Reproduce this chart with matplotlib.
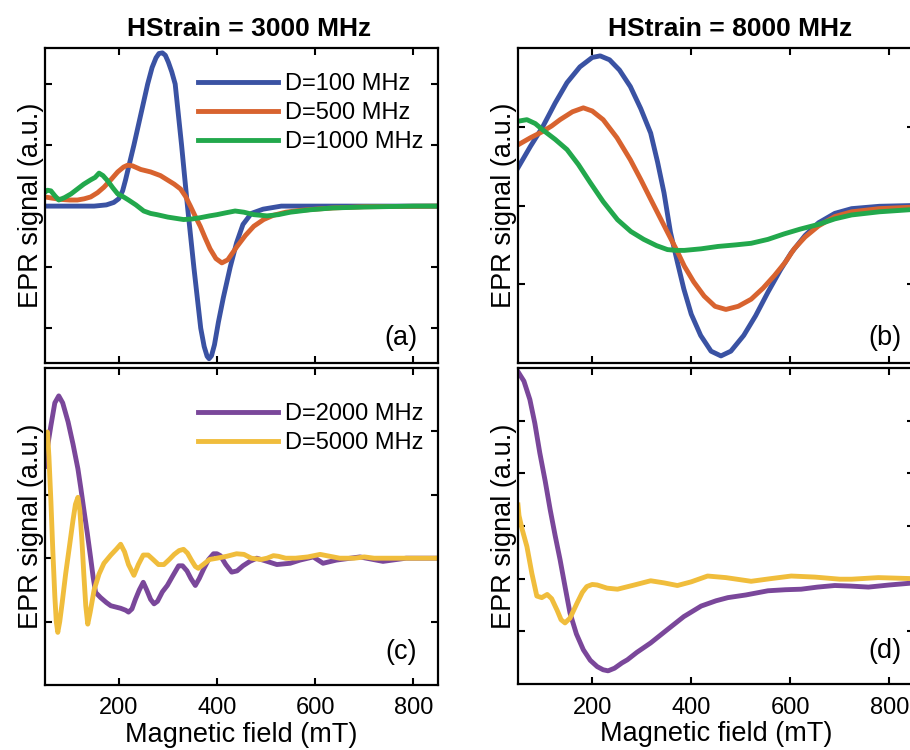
import numpy as np
import matplotlib
matplotlib.use('Agg')
import matplotlib.pyplot as plt

plt.rcParams['font.family'] = ['Liberation Sans', 'DejaVu Sans']

# colours
c_blue = '#3A52A3'
c_orange = '#D8632F'
c_green = '#22A84C'
c_purple = '#7A479A'
c_yellow = '#F0BD3C'

# ---- panel (a): HStrain = 3000 MHz ----
a_blue_x = [50, 150, 175, 190, 200, 208, 214, 222, 231, 245, 259, 268, 276, 282, 289, 295, 301, 308,
            315, 328, 340, 353, 367, 374, 380, 384, 389, 395, 403, 413, 427, 440, 453, 470, 494,
            531, 600, 850]
a_blue_y = [0, 0, 0.02, 0.06, 0.12, 0.25, 0.43, 0.7, 1.0, 1.5, 2.0, 2.27, 2.43, 2.5, 2.51, 2.47,
            2.36, 2.2, 2.0, 1.0, 0.0, -1.0, -2.0, -2.3, -2.46, -2.5, -2.45, -2.27, -1.9, -1.5,
            -1.0, -0.6, -0.3, -0.12, -0.05, 0, 0, 0]
a_orange_x = [50, 65, 82, 100, 116, 130, 143, 157, 170, 185, 198, 210, 218, 228, 245, 265, 285, 299,
              313, 326, 336, 346, 356, 366, 376, 386, 398, 410, 422, 441, 458, 475, 495, 515, 540,
              569, 600, 636, 700, 850]
a_orange_y = [0.15, 0.13, 0.11, 0.1, 0.1, 0.12, 0.15, 0.22, 0.31, 0.44, 0.56, 0.64, 0.67, 0.66, 0.6,
              0.56, 0.5, 0.43, 0.36, 0.28, 0.16, 0.0, -0.17, -0.33, -0.52, -0.7, -0.86, -0.93, -0.88,
              -0.66, -0.48, -0.33, -0.22, -0.15, -0.1, -0.07, -0.05, -0.03, -0.01, 0]
a_green_x = [50, 55, 62, 70, 78, 90, 103, 116, 129, 143, 152, 160, 168, 178, 188, 198, 210, 220, 235,
             251, 265, 278, 300, 332, 350, 366, 385, 400, 418, 437, 455, 475, 502, 525, 549, 590,
             636, 700, 800, 850]
a_green_y = [0.23, 0.26, 0.25, 0.17, 0.1, 0.14, 0.2, 0.28, 0.36, 0.43, 0.47, 0.54, 0.5, 0.41, 0.3,
             0.2, 0.15, 0.1, 0.02, -0.08, -0.12, -0.14, -0.18, -0.22, -0.21, -0.19, -0.16, -0.14,
             -0.11, -0.08, -0.1, -0.14, -0.16, -0.14, -0.1, -0.06, -0.03, -0.015, 0, 0]

# ---- panel (b): HStrain = 8000 MHz ----
b_blue_x = [50, 75, 100, 125, 149, 175, 200, 216, 235, 255, 277, 298, 318, 332, 345, 358, 372, 385,
            400, 419, 440, 460, 480, 506, 530, 555, 580, 602, 630, 657, 690, 724, 780, 850]
b_blue_y = [0.48, 0.75, 1.0, 1.3, 1.56, 1.76, 1.88, 1.9, 1.85, 1.72, 1.51, 1.23, 0.92, 0.55, 0.16,
            -0.34, -0.72, -1.06, -1.38, -1.65, -1.85, -1.91, -1.85, -1.65, -1.4, -1.1, -0.82, -0.6,
            -0.38, -0.22, -0.1, -0.04, -0.01, 0]
b_orange_x = [50, 75, 100, 118, 135, 160, 182, 200, 222, 250, 277, 298, 318, 335, 352, 370, 386, 405,
              426, 448, 470, 495, 521, 545, 568, 590, 608, 630, 657, 690, 724, 780, 850]
b_orange_y = [0.77, 0.86, 0.94, 1.01, 1.09, 1.19, 1.24, 1.2, 1.09, 0.86, 0.58, 0.33, 0.08, -0.13,
              -0.34, -0.56, -0.77, -0.97, -1.15, -1.28, -1.32, -1.28, -1.19, -1.05, -0.89, -0.72,
              -0.55, -0.4, -0.26, -0.14, -0.08, -0.04, -0.02]
b_green_x = [50, 68, 85, 100, 125, 149, 172, 196, 222, 251, 278, 304, 330, 352, 370, 386, 420, 454,
             490, 521, 555, 588, 620, 657, 690, 724, 780, 850]
b_green_y = [1.07, 1.09, 1.04, 0.96, 0.84, 0.71, 0.52, 0.29, 0.05, -0.18, -0.33, -0.43, -0.51, -0.56,
             -0.57, -0.57, -0.55, -0.52, -0.5, -0.48, -0.43, -0.36, -0.3, -0.24, -0.17, -0.12,
             -0.08, -0.05]

# ---- panel (c): HStrain = 3000 MHz ----
c_purple_x = [50, 55, 62, 70, 78, 86, 97, 107, 117, 123, 129, 136, 143, 148, 153, 163, 175, 184, 204,
              214, 220, 227, 234, 242, 250, 257, 265, 272, 279, 289, 299, 310, 322, 330, 339, 347,
              356, 364, 373, 383, 393, 400, 407, 418, 430, 441, 453, 467, 481, 502, 522, 549, 569,
              596, 616, 643, 691, 738, 785, 850]
c_purple_y = [1.45, 1.75, 2.09, 2.45, 2.56, 2.45, 2.15, 1.8, 1.41, 1.1, 0.77, 0.4, 0.0, -0.3, -0.54,
              -0.62, -0.7, -0.75, -0.79, -0.82, -0.85, -0.8, -0.65, -0.5, -0.38, -0.5, -0.65, -0.72,
              -0.68, -0.53, -0.43, -0.28, -0.12, -0.12, -0.2, -0.32, -0.43, -0.32, -0.17, -0.02,
              0.07, 0.07, 0.04, -0.1, -0.22, -0.2, -0.12, -0.05, 0.0, -0.05, -0.1, -0.08, -0.03,
              0.02, -0.08, -0.03, 0.02, -0.05, 0.0, 0.0]
c_yellow_x = [50, 55, 58, 62, 66, 70, 73, 76, 80, 85, 92, 100, 107, 112, 117, 121, 125, 129, 133, 137,
              142, 150, 160, 170, 184, 195, 204, 212, 220, 231, 240, 250, 260, 270, 281, 292, 303,
              313, 323, 332, 340, 348, 356, 362, 372, 385, 400, 420, 440, 455, 470, 490, 502, 515,
              525, 540, 560, 585, 610, 630, 650, 680, 700, 720, 750, 800, 850]
c_yellow_y = [1.9, 1.99, 1.6, 0.9, 0.1, -0.6, -1.0, -1.17, -1.0, -0.7, -0.25, 0.2, 0.6, 0.85, 0.96,
              0.75, 0.3, -0.25, -0.75, -1.04, -0.85, -0.5, -0.25, -0.08, 0.05, 0.14, 0.22, 0.1,
              -0.1, -0.27, -0.1, 0.05, 0.05, -0.02, -0.1, -0.1, -0.02, 0.06, 0.12, 0.14, 0.08,
              -0.03, -0.13, -0.16, -0.1, -0.02, 0.0, 0.03, 0.07, 0.06, 0.0, -0.02, 0.0, 0.04, 0.03,
              0.0, 0.0, 0.02, 0.06, 0.03, 0.0, 0.0, 0.02, 0.0, 0.0, 0.0, 0.0]

# ---- panel (d): HStrain = 8000 MHz ----
d_purple_x = [50, 62, 74, 84, 94, 105, 115, 125, 135, 145, 155, 168, 182, 196, 210, 222, 232, 245,
              260, 271, 290, 318, 350, 385, 420, 450, 474, 510, 555, 590, 622, 655, 690, 720, 758,
              800, 850]
d_purple_y = [3.93, 3.75, 3.4, 2.95, 2.39, 1.85, 1.31, 0.82, 0.36, -0.15, -0.65, -1.05, -1.35, -1.55,
              -1.67, -1.73, -1.75, -1.7, -1.6, -1.54, -1.4, -1.22, -0.98, -0.72, -0.52, -0.42,
              -0.36, -0.31, -0.23, -0.21, -0.2, -0.16, -0.13, -0.14, -0.16, -0.12, -0.08]
d_yellow_x = [50, 52, 58, 68, 78, 88, 98, 109, 118, 129, 137, 145, 155, 169, 180, 189, 200, 210, 230,
              251, 285, 318, 345, 372, 400, 433, 470, 521, 560, 602, 650, 700, 724, 778, 850]
d_yellow_y = [1.4, 1.2, 0.95, 0.61, 0.1, -0.33, -0.36, -0.3, -0.38, -0.6, -0.78, -0.84, -0.75, -0.47,
              -0.26, -0.15, -0.11, -0.12, -0.18, -0.2, -0.12, -0.04, -0.08, -0.13, -0.06, 0.05,
              0.02, -0.05, 0.0, 0.05, 0.03, -0.01, -0.01, 0.02, 0.0]

titles = ['HStrain = 3000 MHz', 'HStrain = 8000 MHz']
xticks = [200, 400, 600, 800]
fs_lab = 19.5
fs_tick = 17
fs_leg = 17
lw = 3.5

fig = plt.figure(figsize=(9.1, 7.5), dpi=100)
W, H = 910.0, 750.0
axw_l = 393 / W
axw_r = 396 / W
ax_a = fig.add_axes([45 / W, (H - 363) / H, axw_l, 315 / H])
ax_b = fig.add_axes([518 / W, (H - 363) / H, axw_r, 315 / H])
ax_c = fig.add_axes([45 / W, (H - 685) / H, axw_l, 317 / H])
ax_d = fig.add_axes([518 / W, (H - 684) / H, axw_r, 316 / H])

ax_a.plot(a_blue_x, a_blue_y, color=c_blue, lw=lw, label='D=100 MHz')
ax_a.plot(a_orange_x, a_orange_y, color=c_orange, lw=lw, label='D=500 MHz')
ax_a.plot(a_green_x, a_green_y, color=c_green, lw=lw, label='D=1000 MHz')
ax_b.plot(b_blue_x, b_blue_y, color=c_blue, lw=lw)
ax_b.plot(b_orange_x, b_orange_y, color=c_orange, lw=lw)
ax_b.plot(b_green_x, b_green_y, color=c_green, lw=lw)
ax_c.plot(c_purple_x, c_purple_y, color=c_purple, lw=lw, label='D=2000 MHz')
ax_c.plot(c_yellow_x, c_yellow_y, color=c_yellow, lw=lw, label='D=5000 MHz')
ax_d.plot(d_purple_x, d_purple_y, color=c_purple, lw=lw)
ax_d.plot(d_yellow_x, d_yellow_y, color=c_yellow, lw=lw)

ax_a.set_ylim(-2.57, 2.59)
ax_a.set_yticks([-2, -1, 0, 1, 2])
ax_b.set_ylim(-2, 2)
ax_b.set_yticks([-1, 0, 1])
ax_c.set_ylim(-2, 3)
ax_c.set_yticks([-1, 0, 1, 2])
ax_d.set_ylim(-2, 4)
ax_d.set_yticks([-1, 0, 1, 2, 3])

for ax, lab in zip([ax_a, ax_b, ax_c, ax_d], ['(a)', '(b)', '(c)', '(d)']):
    ax.set_xlim(50, 850)
    ax.set_xticks(xticks)
    ax.tick_params(direction='in', top=True, right=True, length=5, width=1.5,
                   labelsize=fs_tick, pad=9, labelleft=False)
    for s in ax.spines.values():
        s.set_linewidth(1.6)
    ax.set_ylabel('EPR signal (a.u.)', fontsize=fs_lab, labelpad=1)
    if ax in (ax_a, ax_c):
        xpos = 0.947
    else:
        xpos = 0.977 * axw_l / axw_r
    ypos = 0.08 if ax in (ax_a, ax_b) else 0.105
    ax.text(xpos, ypos, lab, transform=ax.transAxes, ha='right', va='center', fontsize=fs_lab)

for ax in (ax_a, ax_b):
    ax.tick_params(labelbottom=False)
for ax in (ax_c, ax_d):
    ax.set_xlabel('Magnetic field (mT)', fontsize=fs_lab, labelpad=2)

ax_a.set_title(titles[0], fontsize=19, fontweight='bold', x=0.52, pad=9)
ax_b.set_title(titles[1], fontsize=19, fontweight='bold', x=0.54 * axw_l / axw_r, pad=9)

leg_kw = dict(frameon=False, fontsize=fs_leg, handlelength=3.4, handletextpad=0.3,
              labelspacing=0.3, borderaxespad=0.2, loc='upper right')
ax_a.legend(bbox_to_anchor=(1.0, 0.965), **leg_kw)
ax_c.legend(bbox_to_anchor=(1.0, 0.935), **leg_kw)

fig.savefig('out.png', dpi=100)
